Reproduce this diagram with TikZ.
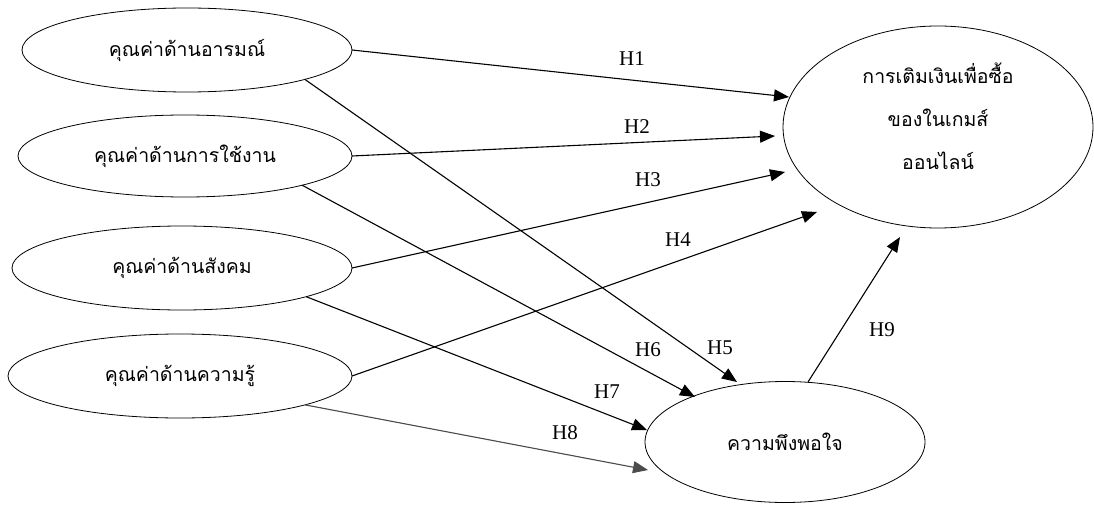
\documentclass[tikz,border=0pt]{standalone}
\usepackage{fontspec}
\setmainfont{Liberation Serif}
\newfontfamily\thaifont[Script=Thai]{Loma}
\usetikzlibrary{shapes.geometric,arrows.meta}
\begin{document}
\begin{tikzpicture}[x=1pt,y=-1pt,
  var/.style={draw,ellipse,line width=0.8pt,inner sep=0pt,outer sep=0pt,font=\thaifont\fontsize{19.5}{23}\selectfont},
  conn/.style={line width=1.1pt,-{Triangle[length=15pt,width=12pt]}},
  hlab/.style={font=\fontsize{21}{24}\selectfont,inner sep=0pt}]
\useasboundingbox (0,0) rectangle (1094,505);
\node[var,minimum width=330pt,minimum height=84pt] (e1) at (187,50) {คุณค่าด้านอารมณ์};
\node[var,minimum width=334pt,minimum height=82pt] (e2) at (185,156) {คุณค่าด้านการใช้งาน};
\node[var,minimum width=340pt,minimum height=84pt] (e3) at (182,268) {คุณค่าด้านสังคม};
\node[var,minimum width=344pt,minimum height=84pt] (e4) at (180,376) {คุณค่าด้านความรู้};
\node[var,minimum width=310pt,minimum height=202pt,align=center,text depth=22pt,font=\thaifont\fontsize{19.5}{43}\selectfont] (t) at (938,127) {การเติมเงินเพื่อซื้อ\\ของในเกมส์\\ออนไลน์};
\node[var,minimum width=280pt,minimum height=121pt] (s) at (785,442) {ความพึงพอใจ};
\coordinate (t1) at (789,97);
\coordinate (t2) at (775,136);
\coordinate (t3) at (785,172);
\coordinate (t4) at (817,212);
\coordinate (t9) at (900,237);
\coordinate (s5) at (737,382);
\coordinate (s6) at (695,397);
\coordinate (s7) at (647,430);
\coordinate (s8) at (648,470);
\coordinate (s9) at (808,382);
\draw[conn] (e1.east) -- (t1);
\draw[conn] (e2.east) -- (t2);
\draw[conn] (e3.east) -- (t3);
\draw[conn] (e4.east) -- (t4);
\draw[conn] (e1.-14.5) -- (s5);
\draw[conn] (e2.-14.7) -- (s6);
\draw[conn] (e3.-13.5) -- (s7);
\draw[conn,draw=black!70,fill=black!70] (e4.-13.7) -- (s8);
\draw[conn] (s9) -- (t9);
\node[hlab] (h1) at (632,59) {H1};
\node[hlab] (h2) at (637,127) {H2};
\node[hlab] (h3) at (648,180) {H3};
\node[hlab] (h4) at (678,240) {H4};
\node[hlab] (h5) at (720,348) {H5};
\node[hlab] (h6) at (648,350) {H6};
\node[hlab] (h7) at (607,392) {H7};
\node[hlab] (h8) at (565,433) {H8};
\node[hlab] (h9) at (882,330) {H9};
\end{tikzpicture}
\end{document}
